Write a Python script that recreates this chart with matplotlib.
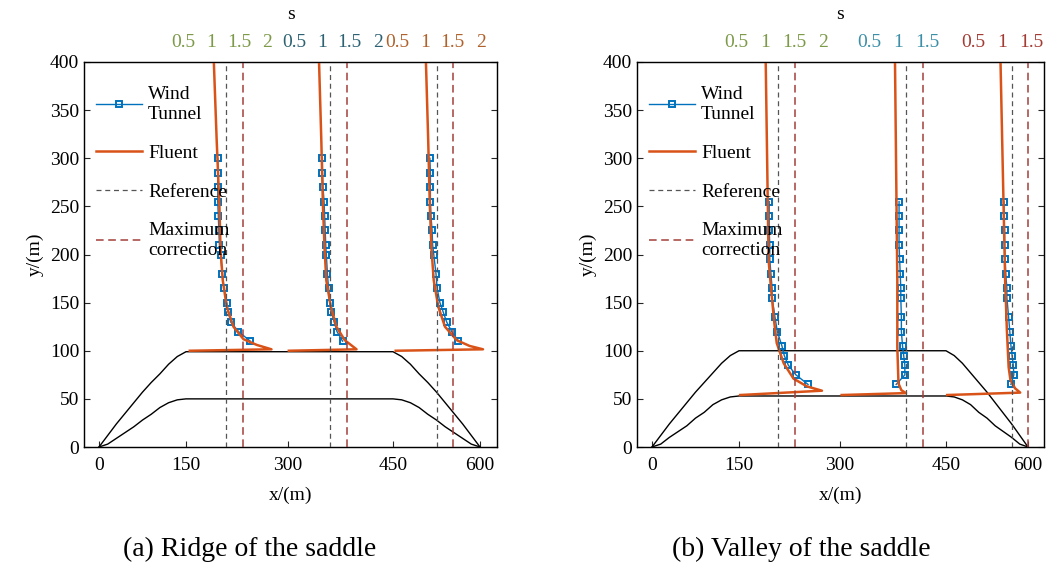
import numpy as np
import matplotlib.pyplot as plt

plt.rcParams['font.family'] = ['Liberation Serif', 'DejaVu Serif']

# x positions (m) of the bottom ticks and where they sit in the picture (px)
knots_m = [0, 150, 300, 450, 600]
knots_px_ridge = [99, 186, 288, 393, 480]
knots_px_valley = [652, 739, 840, 946, 1028]

# terrain: one slope (0..150 m), mirrored for the other side
slope_x = [0, 15, 30, 45, 60, 75, 90, 105, 120, 135, 150]
ridge_up = [0, 12, 24, 35, 46, 57, 67, 76, 86, 94, 99]
ridge_low = [0, 3, 9, 15, 21, 28, 34, 41, 46, 49, 50]
valley_up = [0, 12, 24, 35, 46, 57, 67, 77, 87, 95, 100]
valley_low = [0, 3, 10, 16, 22, 30, 36, 44, 49, 52, 53]

# ---- (a) ridge: wind tunnel and Fluent speed-up ratio s against height
wt_z_ridge = [300, 285, 270, 255, 240, 225, 210, 200, 180, 165, 150, 140, 130, 120, 110]
wt_s_ridge = [
    [1.12, 1.12, 1.12, 1.12, 1.13, 1.14, 1.15, 1.17, 1.20, 1.23, 1.28, 1.31, 1.35, 1.49, 1.70],
    [1.01, 1.01, 1.02, 1.04, 1.05, 1.06, 1.07, 1.08, 1.10, 1.12, 1.14, 1.17, 1.22, 1.27, 1.37],
    [1.09, 1.10, 1.10, 1.10, 1.11, 1.13, 1.14, 1.16, 1.20, 1.22, 1.27, 1.33, 1.39, 1.48, 1.60],
]
fl_z_ridge = [
    [400, 320, 250, 205, 173, 146, 125, 112, 106, 101.5, 100],
    [400, 320, 250, 205, 173, 146, 125, 111, 106, 101.5, 100],
    [400, 320, 250, 205, 173, 146, 125, 111, 105, 101.5, 100],
]
fl_s_ridge = [
    [1.05, 1.10, 1.15, 1.17, 1.21, 1.28, 1.40, 1.58, 1.82, 2.08, 0.62],
    [0.95, 0.99, 1.02, 1.05, 1.08, 1.16, 1.26, 1.41, 1.52, 1.62, 0.41],
    [1.02, 1.06, 1.09, 1.12, 1.16, 1.24, 1.36, 1.57, 1.80, 2.04, 0.48],
]
ref_s_ridge = [1.27, 1.14, 1.21]
max_s_ridge = [1.57, 1.45, 1.50]
offsets_ridge = [0, 1.98, 3.82]
ticks_ridge = [[0.5, 1, 1.5, 2], [0.5, 1, 1.5, 2], [0.5, 1, 1.5, 2]]
colors_ridge = ['#7c9a48', '#2d6273', '#b0622c']

# ---- (b) valley
wt_z_valley = [255, 240, 225, 210, 195, 180, 165, 155, 135, 120, 105, 95, 85, 75, 65]
wt_s_valley = [
    [1.07, 1.07, 1.07, 1.08, 1.08, 1.10, 1.12, 1.12, 1.17, 1.21, 1.29, 1.33, 1.40, 1.53, 1.74],
    [1.02, 1.02, 1.02, 1.02, 1.03, 1.04, 1.05, 1.05, 1.06, 1.06, 1.08, 1.10, 1.12, 1.12, 0.97],
    [1.03, 1.03, 1.04, 1.04, 1.05, 1.06, 1.08, 1.08, 1.11, 1.13, 1.15, 1.17, 1.19, 1.20, 1.15],
]
fl_z_valley = [
    [400, 194, 173, 153, 128, 108, 87, 71, 63, 58.5, 54],
    [400, 173, 104, 66, 59, 56, 54],
    [400, 173, 121, 83, 70, 61, 56.5, 54],
]
fl_s_valley = [
    [1.01, 1.06, 1.09, 1.12, 1.16, 1.20, 1.32, 1.49, 1.72, 1.98, 0.57],
    [0.95, 0.99, 0.99, 1.01, 1.06, 1.14, 0.03],
    [0.97, 1.05, 1.08, 1.11, 1.14, 1.22, 1.31, 0.05],
]
ref_s_valley = [1.22, 1.14, 1.17]
max_s_valley = [1.52, 1.43, 1.45]
offsets_valley = [0, 2.29, 4.09]
ticks_valley = [[0.5, 1, 1.5, 2], [0.5, 1, 1.5], [0.5, 1, 1.5]]
colors_valley = ['#7c9a48', '#3b8fa8', '#a33b33']

BLUE = '#0072BD'
ORANGE = '#D95319'
GRAY = '#555555'
RED = '#A2403A'
FS = 14


def piecewise(xp, fp):
    xp = np.asarray(xp, float)
    fp = np.asarray(fp, float)

    def f(x):
        x = np.asarray(x, float)
        lo = fp[0] + (x - xp[0]) * (fp[1] - fp[0]) / (xp[1] - xp[0])
        hi = fp[-1] + (x - xp[-1]) * (fp[-1] - fp[-2]) / (xp[-1] - xp[-2])
        return np.where(x < xp[0], lo, np.where(x > xp[-1], hi, np.interp(x, xp, fp)))
    return f


def draw_panel(ax, knots_px, px_lim, up, low, u_lim, offsets, wt_z, wt_s,
               fl_z, fl_s, ref_s, max_s, ticks, tcolors):
    fwd = piecewise(knots_m, knots_px)
    inv = piecewise(knots_px, knots_m)
    ax.set_xscale('function', functions=(fwd, inv))
    ax.set_xlim(float(inv(px_lim[0])), float(inv(px_lim[1])))

    tx = list(slope_x) + [600 - v for v in slope_x[::-1]]
    ax.plot(tx, list(up) + list(up[::-1]), color='k', lw=1)
    ax.plot(tx, list(low) + list(low[::-1]), color='k', lw=1)

    ax.set_ylim(0, 400)
    ax.set_yticks(np.arange(0, 401, 50))
    ax.set_xticks(knots_m)
    ax.tick_params(direction='in', top=True, right=True, labelsize=FS, length=4,
                   color='#262626')
    ax.tick_params(axis='x', pad=7)
    ax.set_xlabel('x/(m)', fontsize=FS, labelpad=9)
    ax.set_ylabel('y/(m)', fontsize=FS, labelpad=4)
    for sp in ax.spines.values():
        sp.set_linewidth(1.0)
        sp.set_color('#262626')

    top = ax.twiny()
    top.set_xlim(u_lim)
    handles = []
    pos, labs, cols = [], [], []
    for g in range(3):
        o = offsets[g]
        h1, = top.plot([o + v for v in wt_s[g]], wt_z, '-s', color=BLUE, lw=1,
                       ms=4, mfc='none', mew=1.4)
        h2, = top.plot([o + v for v in fl_s[g]], fl_z[g], color=ORANGE, lw=1.8)
        h3 = top.axvline(o + ref_s[g], color=GRAY, lw=0.9, ls=(0, (4, 3)))
        h4 = top.axvline(o + max_s[g], color=RED, lw=1.1, ls=(0, (5, 3)))
        if g == 0:
            handles = [h1, h2, h3, h4]
        for v in ticks[g]:
            pos.append(o + v)
            labs.append('%g' % v)
            cols.append(tcolors[g])
    top.set_xticks(pos, labs)
    for lab, c in zip(top.get_xticklabels(), cols):
        lab.set_color(c)
    top.tick_params(axis='x', direction='in', length=0, labelsize=FS, pad=8)
    top.set_xlabel('s', fontsize=FS, labelpad=11)
    top.legend(handles, ['Wind\nTunnel', 'Fluent', 'Reference', 'Maximum\ncorrection'],
               loc='upper left', bbox_to_anchor=(0.0, 0.968), frameon=False,
               fontsize=FS, handlelength=2.4, labelspacing=1.1, handletextpad=0.3,
               borderaxespad=0.2)


fig = plt.figure(figsize=(10.47, 5.68), dpi=100)
ax1 = fig.add_axes([84 / 1047, 1 - 447 / 568, 413 / 1047, 385 / 568])
ax2 = fig.add_axes([637 / 1047, 1 - 447 / 568, 407 / 1047, 385 / 568])

draw_panel(ax1, knots_px_ridge, (84, 497), ridge_up, ridge_low, (-1.27, 6.11),
           offsets_ridge, wt_z_ridge, wt_s_ridge, fl_z_ridge, fl_s_ridge,
           ref_s_ridge, max_s_ridge, ticks_ridge, colors_ridge)
draw_panel(ax2, knots_px_valley, (637, 1044), valley_up, valley_low, (-1.21, 5.81),
           offsets_valley, wt_z_valley, wt_s_valley, fl_z_valley, fl_s_valley,
           ref_s_valley, max_s_valley, ticks_valley, colors_valley)

fig.text(250 / 1047, 1 - 549 / 568, '(a) Ridge of the saddle', ha='center', va='center',
         fontsize=20)
fig.text(801 / 1047, 1 - 549 / 568, '(b) Valley of the saddle', ha='center', va='center',
         fontsize=20)

fig.savefig('out.png', dpi=100)
